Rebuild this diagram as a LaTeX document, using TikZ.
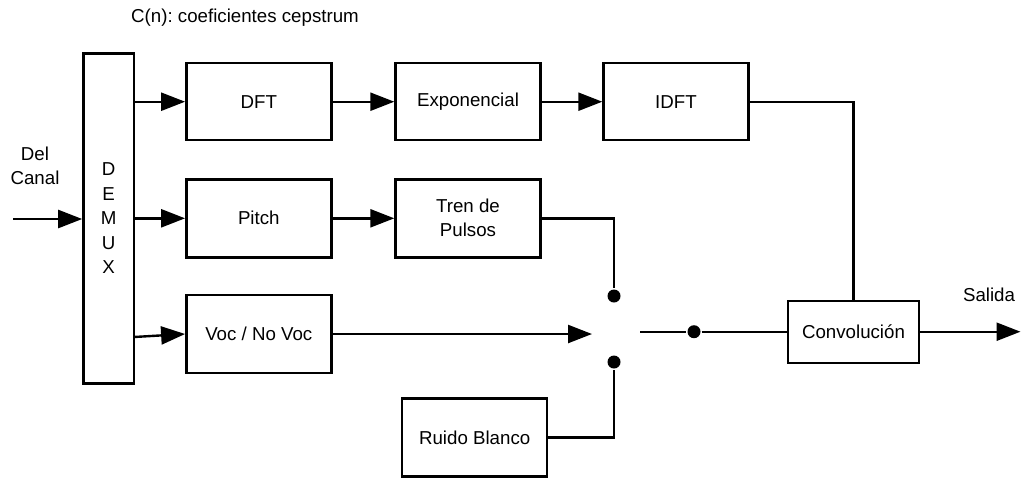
\documentclass[tikz,border=0pt]{standalone}
\usepackage{fontspec}
\setmainfont{Liberation Sans}
\usetikzlibrary{arrows.meta}
\frenchspacing
\begin{document}
\begin{tikzpicture}[x=0.5pt,y=-0.5pt,
  font=\fontsize{9.35}{12}\selectfont,
  line width=1.2pt,
  blk/.style={draw, line width=1.2pt, inner sep=0pt, align=center,
              minimum width=72.5pt, minimum height=38.5pt},
  sig/.style={-{Triangle[length=12pt,width=9pt]}},
  contact/.style={circle, fill, inner sep=0pt, minimum size=6.5pt}]
\useasboundingbox (0,0) rectangle (1021,478);

% caption
\node[anchor=west, inner sep=0pt] (cap) at (130,18) {C(n): coeficientes cepstrum};

% demultiplexer
\node[draw, inner sep=0pt, minimum width=25.3pt, minimum height=165pt,
      align=center, font=\fontsize{9.35}{12.2}\selectfont] (demux) at (108.7,218.3)
      {D\\E\\M\\U\\X};
\node[align=center, inner sep=0pt] (src) at (35,166) {Del\\Canal};
\coordinate (in) at (13,219);

% processing blocks
\node[blk] (dft)  at (258.8,101.7) {DFT};
\node[blk] (expo) at (468,101.7)   {Exponencial};
\node[blk] (idft) at (676,101.7)   {IDFT};
\node[blk, minimum height=39pt] (pitch) at (258.8,218.3) {Pitch};
\node[blk, minimum height=39pt] (tren)  at (468,218.3)   {Tren de\\Pulsos};
\node[blk, minimum height=39pt] (voc)   at (258.8,334)   {Voc / No Voc};
\node[blk, minimum height=39pt] (ruido) at (474.7,437.5) {Ruido Blanco};
\node[blk, minimum width=65.5pt, minimum height=31pt] (conv) at (853.5,331.7) {Convolución};

% switch contacts
\node[contact] (ctop) at (614,296) {};
\node[contact] (cbot) at (614,362) {};
\coordinate (wiper) at (592,334);
\coordinate (swout) at (640,331.7);
\node[contact] (join) at (694,331.7) {};

% outputs of the demultiplexer
\coordinate (d1) at (134,101.7);
\coordinate (d2) at (134,218.3);
\coordinate (d3) at (134,337);
\draw[sig] (in) -- (in -| demux.west);
\draw[sig] (d1) -- (dft.west);
\draw[sig] (d2) -- (pitch.west);
\draw[sig] (d3) -- (voc.west);

% main chains
\draw[sig] (dft) -- (expo);
\draw[sig] (expo) -- (idft);
\draw[sig] (pitch) -- (tren);
\draw (idft.east) -| (conv.north);
\draw (tren.east) -| (ctop);
\draw (ruido.east) -| (cbot);
\draw[sig] (voc.east) -- (wiper);
\draw (swout) -- (join) -- (conv.west);

% system output
\coordinate (out) at (1020.5,331.7);
\draw[sig] (conv.east) -- (out);
\node[inner sep=0pt] (salida) at (989,295) {Salida};
\end{tikzpicture}
\end{document}
